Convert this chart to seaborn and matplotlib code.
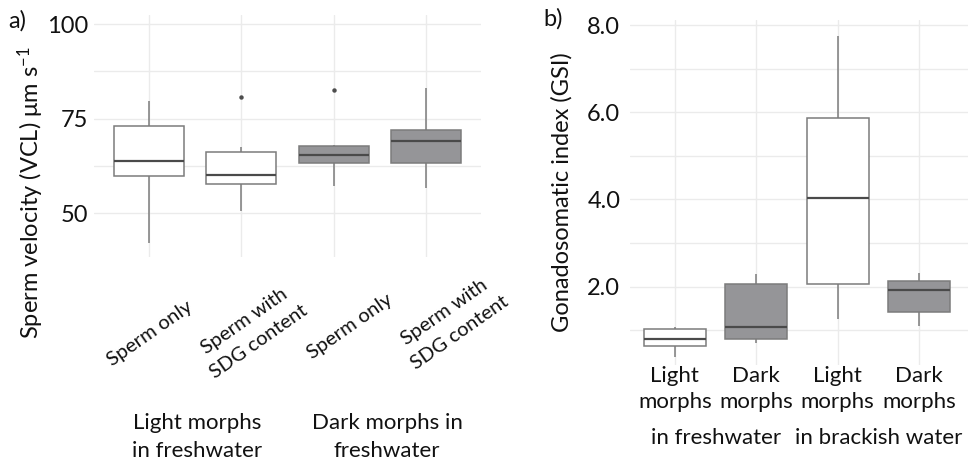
import numpy as np
import pandas as pd
import matplotlib
matplotlib.use("Agg")
import matplotlib.pyplot as plt
import matplotlib.transforms as mtransforms
import seaborn as sns

# ---- Panel a: sperm velocity (VCL), summary statistics per group ----
vcl_groups = ["light_only", "light_sdg", "dark_only", "dark_sdg"]
vcl_tick_labels = ["Sperm only", "Sperm with\nSDG content", "Sperm only", "Sperm with\nSDG content"]
vcl_low = [42.1, 50.7, 57.3, 56.6]
vcl_q1 = [59.9, 57.7, 63.4, 63.2]
vcl_median = [63.7, 60.2, 65.4, 69.1]
vcl_q3 = [73.1, 66.2, 67.8, 72.0]
vcl_high = [79.7, 67.5, 68.0, 83.2]
vcl_outlier_groups = ["light_sdg", "dark_only"]
vcl_outliers = [80.7, 82.7]
vcl_ticks = [50, 75, 100]

# ---- Panel b: gonadosomatic index ----
gsi_groups = ["light_fw", "dark_fw", "light_bw", "dark_bw"]
gsi_tick_labels = ["Light\nmorphs", "Dark\nmorphs", "Light\nmorphs", "Dark\nmorphs"]
gsi_low = [0.39, 0.71, 1.25, 1.10]
gsi_q1 = [0.64, 0.80, 2.05, 1.42]
gsi_median = [0.79, 1.07, 4.04, 1.92]
gsi_q3 = [1.02, 2.05, 5.86, 2.13]
gsi_high = [1.08, 2.30, 7.75, 2.32]
gsi_ticks = [2.0, 4.0, 6.0, 8.0]

LIGHT = "#ffffff"
DARK = "#949498"
vcl_colors = [LIGHT, LIGHT, DARK, DARK]
gsi_colors = [LIGHT, DARK, LIGHT, DARK]


def five_number_frame(groups, low, q1, med, q3, high):
    rows = []
    for g, *vals in zip(groups, low, q1, med, q3, high):
        rows += [(g, v) for v in vals]
    return pd.DataFrame(rows, columns=["group", "value"])


sns.set_theme(style="white")
plt.rcParams["font.family"] = ["Lato", "DejaVu Sans"]
plt.rcParams["mathtext.fontset"] = "custom"
plt.rcParams["mathtext.rm"] = "Lato"
plt.rcParams["mathtext.it"] = "Lato"
plt.rcParams["text.color"] = "#111111"
plt.rcParams["xtick.color"] = "#111111"
plt.rcParams["ytick.color"] = "#111111"

W, H = 969, 465
fig = plt.figure(figsize=(W / 100, H / 100), dpi=100)


def fx(x):
    return x / W


def fy(y):
    return 1 - y / H


ax_a = fig.add_axes([fx(93.5), fy(257), 388 / W, 242 / H])
ax_b = fig.add_axes([fx(630), fy(365), 338 / W, 345 / H])

box_kw = dict(
    width=0.76,
    whis=(0, 100),
    showcaps=False,
    linecolor="#7c7c7c",
    linewidth=1.1,
    medianprops=dict(color="#4a4a4a", linewidth=1.6),
    showfliers=False,
    legend=False,
)

df_a = five_number_frame(vcl_groups, vcl_low, vcl_q1, vcl_median, vcl_q3, vcl_high)
sns.boxplot(data=df_a, x="group", y="value", hue="group", order=vcl_groups,
            hue_order=vcl_groups, palette=vcl_colors, ax=ax_a, **box_kw)
df_out = pd.DataFrame({"group": vcl_outlier_groups, "value": vcl_outliers})
sns.stripplot(data=df_out, x="group", y="value", order=vcl_groups, jitter=False,
              color="#4d4d4d", size=3.2, ax=ax_a)

df_b = five_number_frame(gsi_groups, gsi_low, gsi_q1, gsi_median, gsi_q3, gsi_high)
sns.boxplot(data=df_b, x="group", y="value", hue="group", order=gsi_groups,
            hue_order=gsi_groups, palette=gsi_colors, ax=ax_b, **box_kw)

for ax in (ax_a, ax_b):
    for s in ax.spines.values():
        s.set_visible(False)
    ax.set_xlabel("")
    ax.set_ylabel("")
    ax.tick_params(length=0, which="both")
    ax.grid(True, which="both", color="#ebebeb", linewidth=1.0)
    ax.xaxis.grid(True, which="major", color="#ebebeb", linewidth=1.0)
    ax.set_axisbelow(True)

# panel a axes
ax_a.set_xlim(-0.6, 3.6)
ax_a.set_ylim(38.46, 102.4)
ax_a.set_yticks(vcl_ticks)
ax_a.set_yticks([62.5, 87.5], minor=True)
ax_a.set_yticklabels([str(t) for t in vcl_ticks], fontsize=17)
ax_a.tick_params(axis="y", pad=4)
ax_a.set_xticks(range(len(vcl_groups)))
ax_a.set_xticklabels(vcl_tick_labels, fontsize=14.5, rotation=35,
                     rotation_mode="anchor", ha="center", va="center",
                     multialignment="center", linespacing=1.6)
ax_a.tick_params(axis="x", pad=52)

# the rotated labels sit slightly right of their boxes, drifting outward
label_shift_px = [(1, -4), (10, -2), (16, 3), (26, 7)]
for lab, (dx, dy) in zip(ax_a.get_xticklabels(), label_shift_px):
    offset = mtransforms.ScaledTranslation(dx / 100, dy / 100, fig.dpi_scale_trans)
    lab.set_transform(lab.get_transform() + offset)

# panel b axes
ax_b.set_xlim(-0.55, 3.6)
ax_b.set_ylim(0.202, 8.115)
ax_b.set_yticks(gsi_ticks)
ax_b.set_yticks([1, 3, 5, 7], minor=True)
ax_b.set_yticklabels([f"{t:.1f}" for t in gsi_ticks], fontsize=17)
ax_b.tick_params(axis="y", pad=7)
ax_b.set_xticks(range(len(gsi_groups)))
ax_b.set_xticklabels(gsi_tick_labels, fontsize=16, linespacing=1.35)
ax_b.tick_params(axis="x", pad=1)

# axis titles and panel tags
fig.text(fx(31), fy(193), "Sperm velocity (VCL) μm s$^{\\mathrm{-1}}$", rotation=90,
         ha="center", va="center", fontsize=17)
fig.text(fx(562), fy(192), "Gonadosomatic index (GSI)", rotation=90,
         ha="center", va="center", fontsize=17)
fig.text(fx(8), fy(21), "a)", ha="left", va="center", fontsize=17)
fig.text(fx(543), fy(19), "b)", ha="left", va="center", fontsize=17)

# group captions under the categories
fig.text(fx(197), fy(437), "Light morphs\nin freshwater", ha="center", va="center",
         fontsize=16, linespacing=1.5)
fig.text(fx(387), fy(437), "Dark morphs in\nfreshwater", ha="center", va="center",
         fontsize=16, linespacing=1.5)
fig.text(fx(716), fy(438), "in freshwater", ha="center", va="center", fontsize=16)
fig.text(fx(879), fy(438), "in brackish water", ha="center", va="center", fontsize=16)

fig.savefig("out.png", dpi=100, facecolor="white")
